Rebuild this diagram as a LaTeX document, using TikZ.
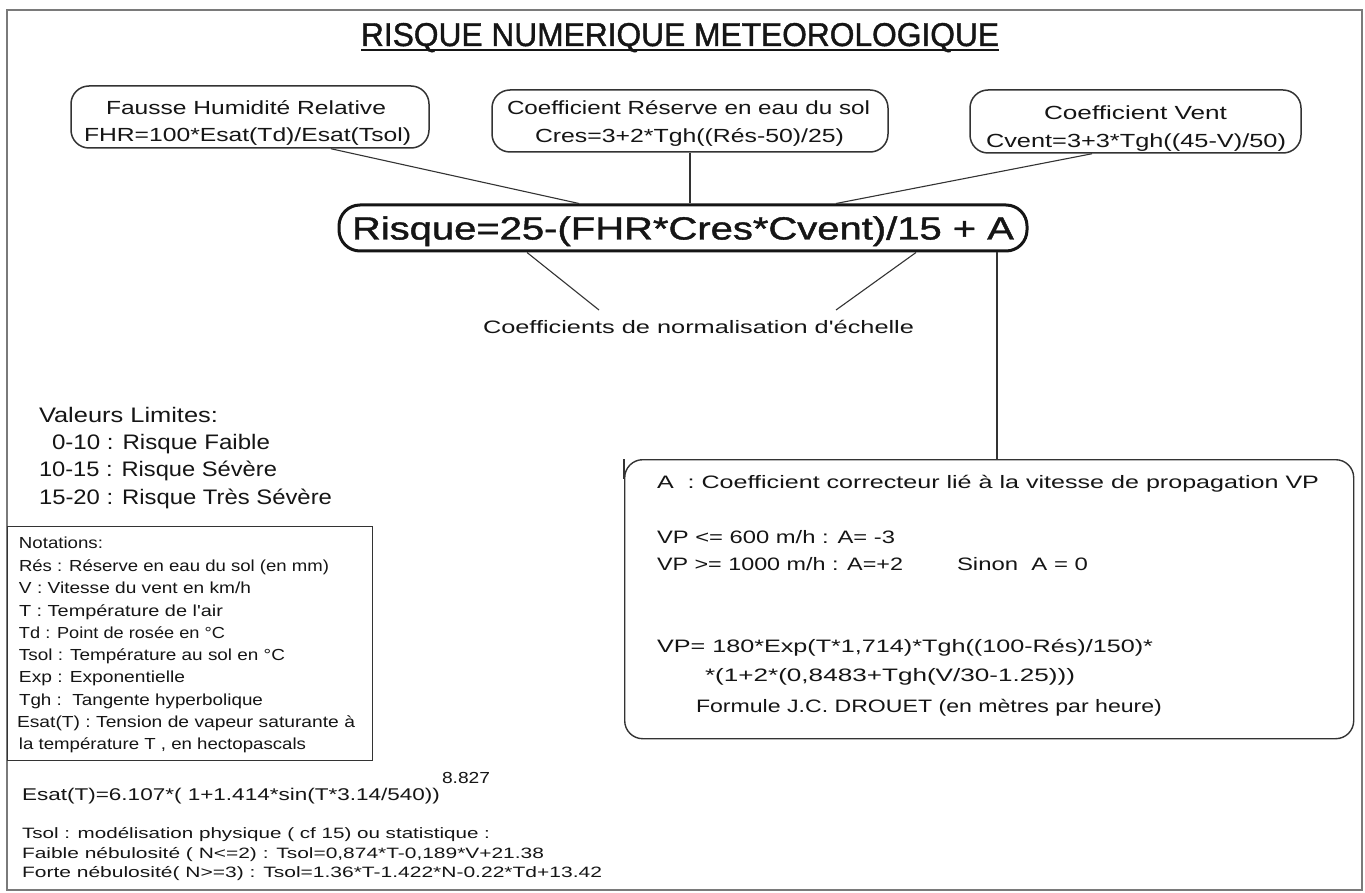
\documentclass[tikz,border=0pt]{standalone}
\usepackage{fontspec}
\usepackage{graphicx}
\setmainfont{Liberation Sans}
\newfontfamily\plainsans{Liberation Sans}
\newfontfamily\heavysans{Liberation Sans}[FakeBold=1.2]
\usetikzlibrary{calc}
\definecolor{ink}{HTML}{151515}
\definecolor{framegray}{HTML}{7A7A7A}
\definecolor{linegray}{HTML}{333333}
% font size, target width, text
\newcommand{\tx}[3]{{\plainsans\fontsize{#1pt}{#1pt}\selectfont\resizebox{#2pt}{\height}{#3}}}
\newcommand{\hx}[3]{{\heavysans\fontsize{#1pt}{#1pt}\selectfont\resizebox{#2pt}{\height}{#3}}}
\tikzset{
  txt/.style={inner sep=0pt, outer sep=0pt, anchor=base west, text=ink},
  topbox/.style={draw=linegray, line width=1.5pt, rounded corners=18pt, inner sep=0pt},
  mainbox/.style={draw=ink, line width=3pt, rounded corners=21pt, inner sep=0pt, text=ink},
  abox/.style={draw=linegray, line width=1.4pt, rounded corners=18pt, inner sep=0pt, anchor=north west},
  nbox/.style={draw=linegray, line width=1.4pt, inner sep=0pt, anchor=north west},
  conn/.style={draw=linegray, line width=1.1pt},
  ul/.style={draw=ink, line width=2pt}
}
\begin{document}
\begin{tikzpicture}[x=1pt,y=-1pt]
\useasboundingbox (0,0) rectangle (1365,893);
\fill[white] (0,0) rectangle (1365,893);
% outer frame
\draw[framegray, line width=1.6pt] (7,10) rectangle (1362,890);

% title
\node[txt] (t) at (361,46) {\hx{33}{638}{RISQUE NUMERIQUE METEOROLOGIQUE}};
\draw[ul] ($(t.base west)+(0,4)$) -- ($(t.base east)+(0,4)$);

% top boxes
\node[topbox, minimum width=358pt, minimum height=62pt] (b1) at (250,117) {};
\node[topbox, minimum width=396pt, minimum height=62pt] (b2) at (690,121) {};
\node[topbox, minimum width=331pt, minimum height=63pt] (b3) at (1135.5,121.5) {};
\node[txt] (b1a) at (106,115) {\tx{19}{280}{Fausse Humidité Relative}};
\node[txt] (b1b) at (84,142) {\tx{19}{327}{FHR=100*Esat(Td)/Esat(Tsol)}};
\node[txt] (b2a) at (507,115) {\tx{19}{363}{Coefficient Réserve en eau du sol}};
\node[txt] (b2b) at (535,143) {\tx{19}{309}{Cres=3+2*Tgh((Rés-50)/25)}};
\node[txt] (b3a) at (1044,120) {\tx{19}{183}{Coefficient Vent}};
\node[txt] (b3b) at (986,148) {\tx{19}{300}{Cvent=3+3*Tgh((45-V)/50)}};

% main formula
\node[mainbox, minimum width=688pt, minimum height=46pt, text height=23pt, text depth=0pt] (main) at (683,228)
  {\hx{32}{662}{Risque=25-(FHR*Cres*Cvent)/15 + A}};

% connectors top boxes -> main
\draw[conn] ($(b1.south)+(81,0)$) -- ($(main.north)+(-104,0)$);
\draw[conn] (b2.south) -- (b2.south |- main.north);
\draw[conn] ($(b3.south)+(-43.5,0)$) -- ($(main.north)+(153,0)$);

% scale label
\node[txt] (lab) at (483,333) {\tx{18}{431}{Coefficients de normalisation d'échelle}};
\coordinate (labL) at ($(lab.base west)+(116,-23)$);
\coordinate (labR) at ($(lab.base west)+(353,-23)$);
\draw[conn] ($(main.south)+(-156,0)$) -- (labL);
\draw[conn] ($(main.south)+(233,0)$) -- (labR);

% correction box
\node[abox, minimum width=729pt, minimum height=279pt] (rb) at (624,459) {};
\coordinate (mA) at ($(main.south)+(314,0)$);
\draw[conn] (mA) -- (mA |- rb.north);
\draw[conn] (rb.north west) -- ++(0,20);
\node[txt] (r1) at (657,488) {\tx{18}{662}{A\ \ : Coefficient correcteur lié à la vitesse de propagation VP}};
\node[txt] (r2) at (657,543) {\tx{18}{238}{VP <= 600 m/h : A= -3}};
\node[txt] (r3) at (657,570) {\tx{18}{246}{VP >= 1000 m/h : A=+2}};
\node[txt] (r3b) at (957,570) {\tx{18}{131}{Sinon\ \ A = 0}};
\node[txt] (r4) at (657,652) {\tx{18}{496}{VP= 180*Exp(T*1,714)*Tgh((100-Rés)/150)*}};
\node[txt] (r5) at (705,681) {\tx{18}{370}{*(1+2*(0,8483+Tgh(V/30-1.25)))}};
\node[txt] (r6) at (696,712) {\tx{18}{466}{Formule J.C. DROUET (en mètres par heure)}};

% limit values
\node[txt] (v0) at (39,422) {\tx{21}{179}{Valeurs Limites:}};
\node[txt] (v1) at (52,449) {\tx{21}{218}{0-10 : Risque Faible}};
\node[txt] (v2) at (39,476) {\tx{21}{238}{10-15 : Risque Sévère}};
\node[txt] (v3) at (39,504) {\tx{21}{293}{15-20 : Risque Très Sévère}};

% notations box
\node[nbox, minimum width=365pt, minimum height=234pt] (nb) at (7,526) {};
\node[txt] (n0) at (19,548) {\tx{16}{84}{Notations:}};
\node[txt] (n1) at (19,571) {\tx{16}{310}{Rés : Réserve en eau du sol (en mm)}};
\node[txt] (n2) at (19,593) {\tx{16}{232}{V : Vitesse du vent en km/h}};
\node[txt] (n3) at (19,616) {\tx{16}{204}{T : Température de l'air}};
\node[txt] (n4) at (19,638) {\tx{16}{206}{Td : Point de rosée en °C}};
\node[txt] (n5) at (19,660) {\tx{16}{266}{Tsol : Température au sol en °C}};
\node[txt] (n6) at (19,682) {\tx{16}{166}{Exp : Exponentielle}};
\node[txt] (n7) at (19,705) {\tx{16}{244}{Tgh :\ \ Tangente hyperbolique}};
\node[txt] (n8) at (17,727) {\tx{16}{338}{Esat(T) : Tension de vapeur saturante à}};
\node[txt] (n9) at (19,749) {\tx{16}{287}{la température T , en hectopascals}};

% bottom formulas
\node[txt] (e0) at (442,783) {\tx{16}{48}{8.827}};
\node[txt] (e1) at (22,800) {\tx{17}{418}{Esat(T)=6.107*( 1+1.414*sin(T*3.14/540))}};
\node[txt] (s1) at (22,838) {\tx{15}{468}{Tsol : modélisation physique ( cf 15) ou statistique :}};
\node[txt] (s2) at (22,858) {\tx{15}{522}{Faible nébulosité ( N<=2) : Tsol=0,874*T-0,189*V+21.38}};
\node[txt] (s3) at (22,877) {\tx{15}{580}{Forte nébulosité( N>=3) : Tsol=1.36*T-1.422*N-0.22*Td+13.42}};
\end{tikzpicture}
\end{document}
